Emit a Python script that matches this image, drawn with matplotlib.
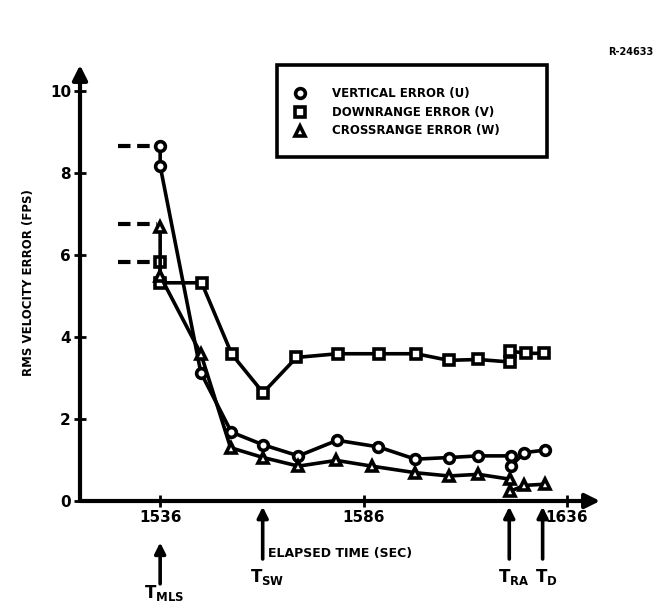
import matplotlib.pyplot as plt
from matplotlib.patches import Rectangle

plt.rcParams['font.family'] = 'DejaVu Sans'
plt.rcParams['font.weight'] = 'bold'
plt.rcParams['axes.labelweight'] = 'bold'
plt.rcParams['mathtext.fontset'] = 'dejavusans'

# vertical error U (circles), first point is the value before the MLS update
t_u = [1536, 1536, 1546, 1553.5, 1561.3, 1570, 1579.5, 1589.6, 1598.7, 1607, 1614.2, 1622.2, 1622.2, 1625.5, 1630.6]
v_u = [8.66, 8.17, 3.13, 1.68, 1.37, 1.10, 1.48, 1.32, 1.02, 1.06, 1.10, 1.10, 0.85, 1.18, 1.24]

# downrange error V (squares)
t_v = [1536, 1536, 1546.2, 1553.6, 1561.3, 1569.5, 1579.6, 1589.8, 1598.9, 1606.9, 1614.2, 1621.9, 1621.9, 1625.8, 1630.4]
v_v = [5.83, 5.32, 5.32, 3.58, 2.64, 3.50, 3.59, 3.59, 3.59, 3.43, 3.45, 3.39, 3.66, 3.60, 3.60]

# crossrange error W (triangles)
t_w = [1536, 1536, 1546, 1553.3, 1561.3, 1570, 1579.3, 1588, 1598.7, 1607, 1614.2, 1622.1, 1622.1, 1625.5, 1630.6]
v_w = [6.68, 5.49, 3.59, 1.30, 1.06, 0.85, 0.99, 0.85, 0.69, 0.61, 0.65, 0.53, 0.24, 0.38, 0.41]

# prior values drawn as dashed stubs left of T_MLS
prior_vals = [8.66, 6.75, 5.83]
prior_t0 = 1525.7
t_mls = 1536

# event markers below the time axis
events = [('MLS', 1536), ('SW', 1561.2), ('RA', 1621.8), ('D', 1630)]

x_ticks = [1536, 1586, 1636]
y_ticks = [0, 2, 4, 6, 8, 10]
legend_labels = ['VERTICAL ERROR (U)', 'DOWNRANGE ERROR (V)', 'CROSSRANGE ERROR (W)']
legend_markers = ['o', 's', '^']

fig = plt.figure(figsize=(6.6, 6.07), dpi=100)
ax = fig.add_axes([80 / 660, 106 / 607, 520 / 660, 436 / 607])
ax.set_xlim(1516.3, 1644.1)
ax.set_ylim(0, 10.63)

for s in ax.spines.values():
    s.set_visible(False)

# axes with arrowheads
arr = dict(arrowstyle='-|>', lw=3, color='k', mutation_scale=22, shrinkA=0, shrinkB=0)
ax.annotate('', xy=(1, 0), xytext=(0, 0), xycoords='axes fraction', arrowprops=arr)
ax.annotate('', xy=(0, 1), xytext=(0, 0), xycoords='axes fraction', arrowprops=arr)

ax.set_xticks(x_ticks)
ax.set_yticks(y_ticks)
ax.tick_params(direction='inout', length=9, width=2, labelsize=11, pad=2)

mk = dict(color='k', lw=2.6, ms=7, mfc='white', mec='k', mew=2.6, clip_on=False)
ax.plot(t_u, v_u, marker='o', **mk)
ax.plot(t_v, v_v, marker='s', **mk)
ax.plot(t_w, v_w, marker='^', **mk)

for pv in prior_vals:
    ax.plot([prior_t0, t_mls - 0.8], [pv, pv], color='k', lw=3, dashes=(3, 1.6), zorder=1)

ax.set_xlabel('ELAPSED TIME (SEC)', fontsize=9, labelpad=16)
ax.set_ylabel('RMS VELOCITY ERROR (FPS)', fontsize=8.5, labelpad=11)

# legend box
ax.add_patch(Rectangle((0.379, 0.79), 0.52, 0.21, transform=ax.transAxes,
                       fill=False, lw=2.6, ec='k', clip_on=False))
for i, (lab, m) in enumerate(zip(legend_labels, legend_markers)):
    y = 0.935 - i * 0.043
    ax.plot(0.424, y, marker=m, ms=7, mfc='white', mec='k', mew=2.6,
            transform=ax.transAxes, clip_on=False)
    ax.text(0.485, y, lab, transform=ax.transAxes, fontsize=8.5, va='center', ha='left')

fig.text(0.955, 0.915, 'R-24633', fontsize=7, ha='center', va='center')

# event arrows and labels
for name, t in events:
    if name == 'MLS':
        y0, y1, ylab = -0.19, -0.095, -0.212
    else:
        y0, y1, ylab = -0.133, -0.013, -0.175
    ax.annotate('', xy=(t, y1), xytext=(t, y0), xycoords=('data', 'axes fraction'),
                arrowprops=dict(arrowstyle='-|>', lw=2.6, color='k', mutation_scale=16,
                                shrinkA=0, shrinkB=0))
    ax.text(t + 1, ylab, r'$\mathbf{T_{%s}}$' % name, transform=ax.get_xaxis_transform(),
            fontsize=12, ha='center', va='center')

fig.savefig('out.png', dpi=100)
